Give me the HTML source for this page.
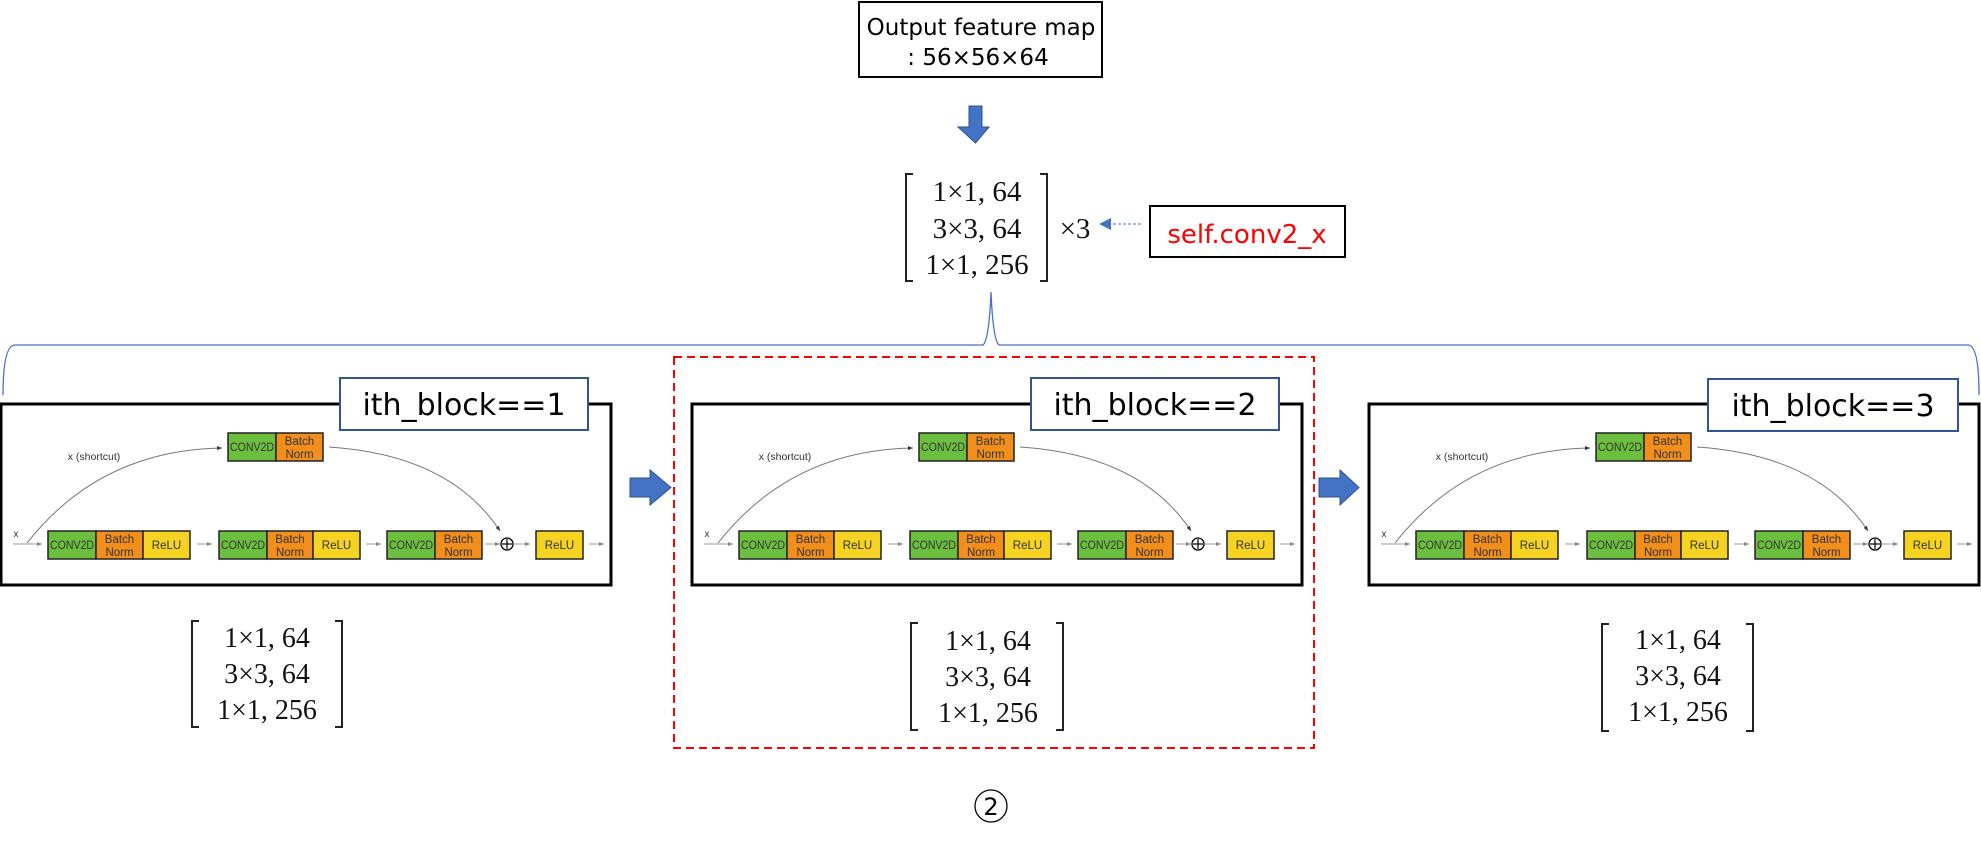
<!DOCTYPE html>
<html><head><meta charset="utf-8"><style>
html,body{margin:0;padding:0;background:#fff;}
svg{display:block;}
</style></head><body>
<svg width="1981" height="845" viewBox="0 0 1981 845" xmlns="http://www.w3.org/2000/svg">
<defs>
<marker id="ga" markerWidth="6" markerHeight="6" refX="5" refY="3" orient="auto" markerUnits="userSpaceOnUse"><path d="M0,1 L5,3 L0,5 z" fill="#888"/></marker>
<marker id="ka" markerWidth="6" markerHeight="6" refX="5" refY="3" orient="auto" markerUnits="userSpaceOnUse"><path d="M0,1 L5,3 L0,5 z" fill="#333"/></marker>
<g id="blk">
  <rect x="1" y="404" width="610" height="181" fill="#fff" stroke="#000" stroke-width="3"/>
  <g stroke="#222" stroke-width="1.5">
    <rect x="228" y="433" width="48" height="28" fill="#6CBF3E"/>
    <rect x="276" y="433" width="47" height="28" fill="#F28E1C"/>
    <rect x="48" y="531" width="48" height="28" fill="#6CBF3E"/>
    <rect x="96" y="531" width="47" height="28" fill="#F28E1C"/>
    <rect x="143" y="531" width="47" height="28" fill="#F6D323"/>
    <rect x="219" y="531" width="48" height="28" fill="#6CBF3E"/>
    <rect x="267" y="531" width="46" height="28" fill="#F28E1C"/>
    <rect x="313" y="531" width="47" height="28" fill="#F6D323"/>
    <rect x="387" y="531" width="48" height="28" fill="#6CBF3E"/>
    <rect x="435" y="531" width="47" height="28" fill="#F28E1C"/>
    <rect x="536" y="531" width="47" height="28" fill="#F6D323"/>
  </g>
  <g font-family="Liberation Sans, sans-serif" font-size="11.5" fill="#333" text-anchor="middle">
    <text x="252" y="451" textLength="44" lengthAdjust="spacingAndGlyphs">CONV2D</text><text x="299.5" y="445">Batch</text><text x="299.5" y="458">Norm</text>
    <text x="72" y="549" textLength="44" lengthAdjust="spacingAndGlyphs">CONV2D</text><text x="119.5" y="543">Batch</text><text x="119.5" y="556">Norm</text><text x="166.5" y="549">ReLU</text>
    <text x="243" y="549" textLength="44" lengthAdjust="spacingAndGlyphs">CONV2D</text><text x="290" y="543">Batch</text><text x="290" y="556">Norm</text><text x="336.5" y="549">ReLU</text>
    <text x="411" y="549" textLength="44" lengthAdjust="spacingAndGlyphs">CONV2D</text><text x="458.5" y="543">Batch</text><text x="458.5" y="556">Norm</text>
    <text x="559.5" y="549">ReLU</text>
    <text x="16" y="537" font-size="10">x</text>
    <text x="94" y="460" font-size="10.5">x (shortcut)</text>
  </g>
  <g fill="none" stroke="#999" stroke-width="1">
    <line x1="13" y1="544" x2="42" y2="544" marker-end="url(#ga)"/>
    <line x1="197" y1="544" x2="212" y2="544" marker-end="url(#ga)"/>
    <line x1="366" y1="544" x2="381" y2="544" marker-end="url(#ga)"/>
    <line x1="485" y1="544" x2="500" y2="544" marker-end="url(#ga)"/>
    <line x1="514" y1="544" x2="530" y2="544" marker-end="url(#ga)"/>
    <line x1="589" y1="544" x2="604" y2="544" marker-end="url(#ga)"/>
  </g>
  <g fill="none" stroke="#777" stroke-width="1">
    <path d="M27,543 Q100,450 222,448" marker-end="url(#ka)"/>
    <path d="M329,447 Q450,455 500,531" marker-end="url(#ka)"/>
  </g>
  <circle cx="507" cy="544" r="6" fill="#fff" stroke="#000" stroke-width="1.3"/>
  <line x1="502" y1="544" x2="512" y2="544" stroke="#000" stroke-width="1.2"/>
  <line x1="507" y1="539" x2="507" y2="549" stroke="#000" stroke-width="1.2"/>
</g>
</defs>

<rect x="859" y="2" width="243" height="75" fill="#fff" stroke="#000" stroke-width="2"/>
<g font-family="DejaVu Sans, Liberation Sans, sans-serif" font-size="23" fill="#000" text-anchor="middle">
<text x="981" y="35">Output feature map</text>
<text x="978" y="65">: 56×56×64</text>
</g>

<path d="M969,106 L982,106 L982,127 L989,127 L975.5,143 L958,127 L969,127 Z" fill="#4472C4" stroke="#2F528F" stroke-width="1"/>

<g fill="none" stroke="#222" stroke-width="2">
<path d="M913,174 L906,174 L906,281 L913,281"/>
<path d="M1040,174 L1047,174 L1047,281 L1040,281"/>
</g>
<g font-family="Liberation Serif, serif" font-size="29" fill="#111" text-anchor="middle">
<text x="977" y="201">1×1, 64</text>
<text x="977" y="238">3×3, 64</text>
<text x="977" y="274">1×1, 256</text>
<text x="1075" y="238">×3</text>
</g>
<line x1="1141" y1="224" x2="1110" y2="224" stroke="#4472C4" stroke-width="1" stroke-dasharray="3,2"/>
<path d="M1099,224 L1111,218 L1111,230 Z" fill="#4472C4"/>
<rect x="1150" y="206" width="195" height="51" fill="#fff" stroke="#000" stroke-width="2"/>
<text x="1247" y="243" font-family="DejaVu Sans, Liberation Sans, sans-serif" font-size="26" fill="#FF0000" text-anchor="middle">self.conv2_x</text>

<path d="M3,395 Q3,345 15,345 L983,345 Q989,340 991,292 Q993,340 999,345 L1968,345 Q1979,345 1979,395" fill="none" stroke="#4472C4" stroke-width="1.3"/>

<rect x="674" y="357" width="640" height="391" fill="none" stroke="#FF0000" stroke-width="2" stroke-dasharray="8,5"/>

<use href="#blk"/>
<use href="#blk" transform="translate(691,0)"/>
<use href="#blk" transform="translate(1368,0)"/>

<g fill="#fff" stroke="#2F5597" stroke-width="2">
<rect x="340" y="378" width="248" height="52"/>
<rect x="1031" y="378" width="248" height="52"/>
<rect x="1708" y="379" width="250" height="52"/>
</g>
<g font-family="DejaVu Sans, Liberation Sans, sans-serif" font-size="30" fill="#000" text-anchor="middle">
<text x="464" y="415">ith_block==1</text>
<text x="1155" y="415">ith_block==2</text>
<text x="1833" y="416">ith_block==3</text>
</g>

<path d="M630,478 L650,478 L650,470 L671,487.5 L650,505 L650,497 L630,497 Z" fill="#4472C4" stroke="#2F528F" stroke-width="1"/>
<path d="M1319,478 L1340,478 L1340,470 L1359,487.5 L1340,505 L1340,497 L1319,497 Z" fill="#4472C4" stroke="#2F528F" stroke-width="1"/>

<g fill="none" stroke="#222" stroke-width="2">
<path d="M199,621 L192,621 L192,727 L199,727"/><path d="M335,621 L342,621 L342,727 L335,727"/>
<path d="M918,623 L911,623 L911,730 L918,730"/><path d="M1056,623 L1063,623 L1063,730 L1056,730"/>
<path d="M1609,624 L1602,624 L1602,731 L1609,731"/><path d="M1746,624 L1753,624 L1753,731 L1746,731"/>
</g>
<g font-family="Liberation Serif, serif" font-size="28" fill="#111" text-anchor="middle">
<text x="267" y="647">1×1, 64</text><text x="267" y="683">3×3, 64</text><text x="267" y="719">1×1, 256</text>
<text x="988" y="650">1×1, 64</text><text x="988" y="686">3×3, 64</text><text x="988" y="722">1×1, 256</text>
<text x="1678" y="649">1×1, 64</text><text x="1678" y="685">3×3, 64</text><text x="1678" y="721">1×1, 256</text>
</g>

<circle cx="991" cy="806" r="16" fill="none" stroke="#000" stroke-width="1.3"/>
<text x="991" y="815" font-family="DejaVu Sans, Liberation Sans, sans-serif" font-size="24" fill="#000" text-anchor="middle">2</text>
</svg>
</body></html>
